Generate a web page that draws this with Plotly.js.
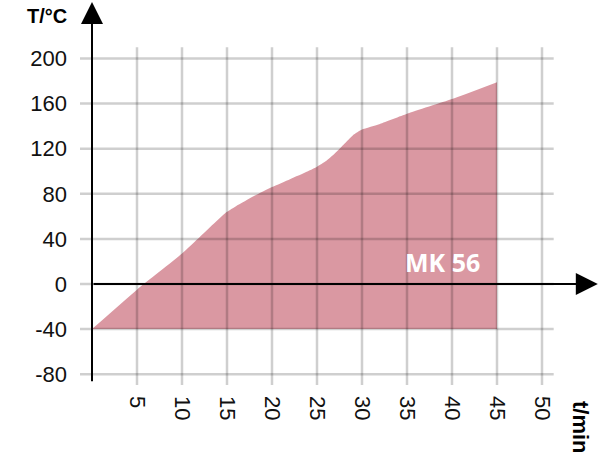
<!DOCTYPE html>
<html>
<head>
<meta charset="utf-8">
<script src="https://cdn.plot.ly/plotly-3.0.1.min.js"></script>
<style>html,body{margin:0;padding:0;background:#fff;}#chart{width:600px;height:464px;}</style>
</head>
<body>
<div id="chart"></div>
<script>
// Heating curve data (time in min, temperature in °C)
const timeMin = [0, 5, 10, 12, 14, 15, 16, 18, 20, 22, 24, 25, 26, 27, 28, 29, 30, 32, 35, 40, 45];
const tempC   = [-40, -5, 27, 42, 57, 64, 69, 78, 86, 93, 100, 104, 109, 116, 124, 132, 137, 142, 151, 164, 179];
const baseTemp = -40;
const xTicks = [5, 10, 15, 20, 25, 30, 35, 40, 45, 50];
const yTicks = [-80, -40, 0, 40, 80, 120, 160, 200];
const seriesLabel = 'MK 56';

const fillColor = 'rgb(218,152,162)';
const gridColor = 'rgba(0,0,0,0.19)';

const xMin = -1.333, xMax = 56.444;
const yMin = -89.58, yMax = 251.88;
const gridTop = 210, gridRight = 51.3;

const traces = [
  { x: [timeMin[0], timeMin[timeMin.length - 1]], y: [baseTemp, baseTemp],
    mode: 'lines', line: { width: 0 }, hoverinfo: 'skip', showlegend: false },
  { x: timeMin, y: tempC, mode: 'lines', fill: 'tonexty', fillcolor: fillColor,
    line: { width: 0, color: fillColor, shape: 'spline', smoothing: 0.5 }, showlegend: false }
];

const shapes = [];
xTicks.forEach(v => shapes.push({ type: 'line', layer: 'above', xref: 'x', yref: 'y',
  x0: v, x1: v, y0: yMin, y1: gridTop, line: { color: gridColor, width: 2.5 } }));
yTicks.forEach(v => shapes.push({ type: 'line', layer: 'above', xref: 'x', yref: 'y',
  x0: xMin, x1: gridRight, y0: v, y1: v, line: { color: gridColor, width: 2.5 } }));

const annotations = [
  // y axis with arrow
  { x: 0, y: 250.1, ax: 0, ay: -87.5, xref: 'x', yref: 'y', axref: 'x', ayref: 'y',
    text: '', showarrow: true, arrowhead: 2, arrowsize: 2.2, arrowwidth: 2, arrowcolor: '#000' },
  // x axis with arrow
  { x: 56.2, y: 0, ax: 0, ay: 0, xref: 'x', yref: 'y', axref: 'x', ayref: 'y',
    text: '', showarrow: true, arrowhead: 2, arrowsize: 2.2, arrowwidth: 2, arrowcolor: '#000' },
  { x: 38.9, y: 19.5, xref: 'x', yref: 'y', text: '<b>' + seriesLabel + '</b>', showarrow: false,
    font: { family: 'Open Sans, sans-serif', size: 25, color: '#ffffff' } },
  { x: 47, y: 16, xref: 'paper', yref: 'paper', xanchor: 'center', yanchor: 'middle',
    text: '<b>T/°C</b>', showarrow: false,
    font: { family: 'Liberation Sans, Arial, sans-serif', size: 20, color: '#000' } },
  { x: 581, y: 427, xref: 'paper', yref: 'paper', xanchor: 'center', yanchor: 'middle',
    text: '<b>t/min</b>', textangle: 90, showarrow: false,
    font: { family: 'Liberation Sans, Arial, sans-serif', size: 22, color: '#000' } }
];

// Convert pixel-placed title annotations into paper coords
const L = 80, T = 0, W = 520, H = 385;
annotations.forEach(a => {
  if (a.xref === 'paper') { a.x = (a.x - L) / W; a.y = 1 - (a.y - T) / H; }
});

const layout = {
  width: 600, height: 464,
  margin: { l: L, r: 0, t: T, b: 464 - H },
  paper_bgcolor: '#fff', plot_bgcolor: 'rgba(0,0,0,0)',
  showlegend: false,
  xaxis: { range: [xMin, xMax], tickvals: xTicks, ticktext: xTicks.map(String),
    tickangle: 90, showgrid: false, zeroline: false, showline: false, ticks: '',
    ticklabelstandoff: 10,
    tickfont: { family: 'Liberation Sans, Arial, sans-serif', size: 22, color: '#111' } },
  yaxis: { range: [yMin, yMax], tickvals: yTicks, ticktext: yTicks.map(String),
    showgrid: false, zeroline: false, showline: false, ticks: '',
    ticklabelstandoff: 12,
    tickfont: { family: 'Liberation Sans, Arial, sans-serif', size: 22, color: '#111' } },
  shapes: shapes,
  annotations: annotations
};

Plotly.newPlot('chart', traces, layout, { staticPlot: true, displayModeBar: false });
</script>
</body>
</html>
